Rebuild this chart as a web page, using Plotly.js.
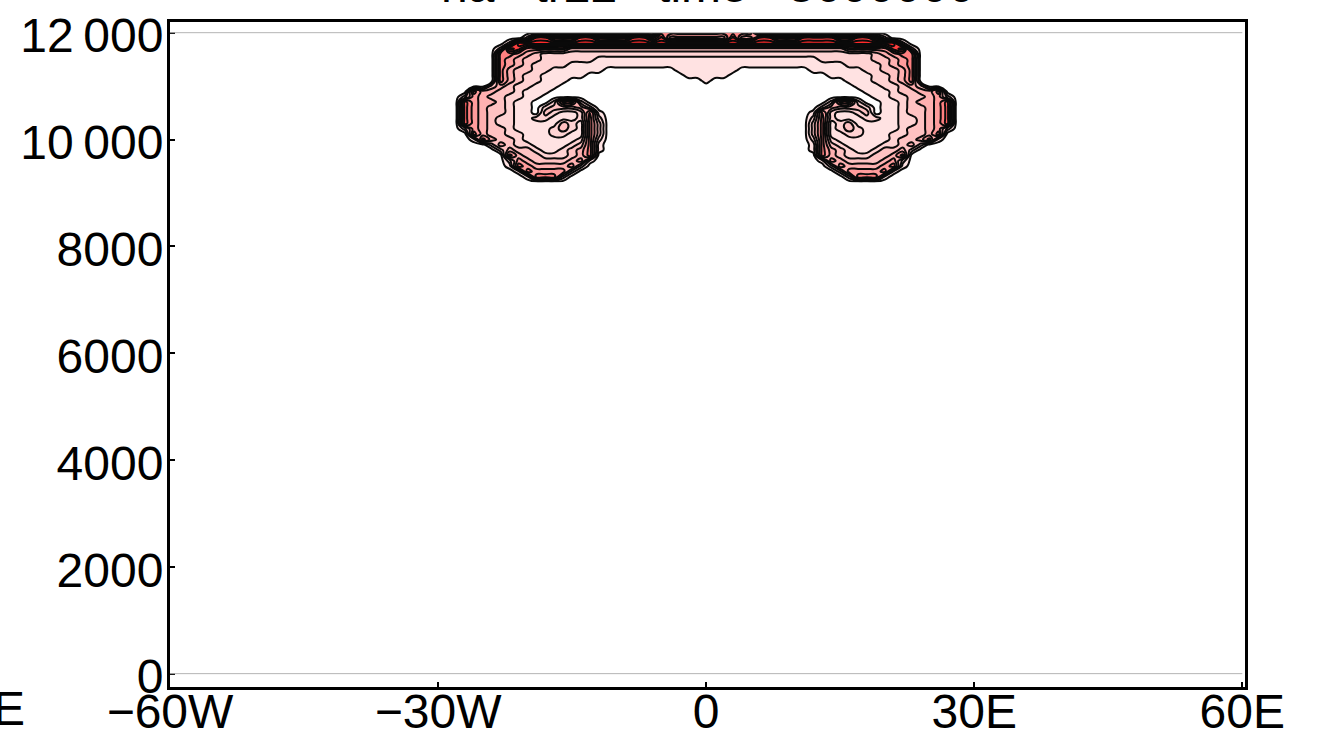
<!DOCTYPE html>
<html>
<head>
<meta charset="utf-8">
<script src="https://cdn.plot.ly/plotly-3.0.1.min.js"></script>
<style>
  html, body { margin: 0; padding: 0; background: #ffffff; }
  #chart { width: 1318px; height: 742px; }
</style>
</head>
<body>
<div id="chart"></div>
<script>
// Tracer tr22 on a 1 degree x 100 m grid around the cap of the rising thermal.
const lonDeg = [-30,-29,-28,-27,-26,-25,-24,-23,-22,-21,-20,-19,-18,-17,-16,-15,-14,-13,-12,-11,
  -10,-9,-8,-7,-6,-5,-4,-3,-2,-1,0,1,2,3,4,5,6,7,8,9,10,11,12,13,14,15,16,17,18,19,20,
  21,22,23,24,25,26,27,28,29,30];

const heightM = [12000,11900,11800,11700,11600,11500,11400,11300,11200,11100,11000,
  10900,10800,10700,10600,10500,10400,10300,10200,10100,10000,9900,9800,9700,9600,
  9500,9400,9300,9200];

// One string per height level (top first); one digit per longitude, grouped by 10.
const tracerRows = [
  "0000000000 0000000000 0000066666 6666660000 0000000000 0000000000 0",
  "0000000000 2885558855 5588584444 4448448855 5888855885 2000000000 0",
  "0000000029 9999999999 9999999999 9999999999 9999999999 9920000000 0",
  "0000000298 5555533333 3333333333 3333333333 3333335555 5892000000 0",
  "0000000665 4322222222 2222222222 2222222222 2222222223 4566000000 0",
  "0000000654 3322222211 1111111111 1111111111 1112222223 3456000000 0",
  "0000000654 3222211111 1111111111 1111111111 1111112222 3456000000 0",
  "0000000643 3221111110 0000000111 1111000000 0011111122 3346000000 0",
  "0000000643 2211111000 0000000011 1110000000 0000111112 2346000000 0",
  "0000000643 2211100000 0000000000 1000000000 0000001112 2346000000 0",
  "0000003432 2111000000 0000000000 0000000000 0000000111 2234300000 0",
  "0000644332 1110000000 0000000000 0000000000 0000000011 1233446000 0",
  "0002543322 1100000000 0000000000 0000000000 0000000001 1223345200 0",
  "0007544321 1002662000 0000000000 0000000000 0000266200 1123445700 0",
  "0007543321 1023334200 0000000000 0000000000 0002433320 1123345700 0",
  "0007543321 1032112610 0000000000 0000000000 0016211230 1123345700 0",
  "0007543221 1221112620 0000000000 0000000000 0026211122 1122345700 0",
  "0007543221 1111321630 0000000000 0000000000 0036123111 1122345700 0",
  "0002543321 1112321630 0000000000 0000000000 0036123211 1123345200 0",
  "0000643322 1112211630 0000000000 0000000000 0036112211 1223346000 0",
  "0000164332 1111112620 0000000000 0000000000 0026211111 1233461000 0",
  "0000002432 2111123610 0000000000 0000000000 0016321111 2234200000 0",
  "0000000243 3211234610 0000000000 0000000000 0016432112 3342000000 0",
  "0000000064 3322234600 0000000000 0000000000 0006432223 3460000000 0",
  "0000000025 4333345100 0000000000 0000000000 0001543333 4520000000 0",
  "0000000016 5444452000 0000000000 0000000000 0000254444 5610000000 0",
  "0000000001 6555520000 0000000000 0000000000 0000025555 6100000000 0",
  "0000000000 1666200000 0000000000 0000000000 0000002666 1000000000 0",
  "0000000000 0000000000 0000000000 0000000000 0000000000 0000000000 0"
];

const xTickVals = [-60, -30, 0, 30, 60];
const xTickText = ['\u221260W', '\u221230W', '0', '30E', '60E'];
const yTickVals = [0, 2000, 4000, 6000, 8000, 10000, 12000];
const yTickText = ['0', '2000', '4000', '6000', '8000', '10\u2009000', '12\u2009000'];

const titleText = 'ha\u00a0\u00a0\u00a0tr22\u00a0\u00a0\u00a0time\u00a0\u00a0\u00a03600000';

const tracer = tracerRows.map(r => r.replace(/ /g, '').split('').map(Number));

const FONT = 'Liberation Sans, Arial, Helvetica, sans-serif';

// white -> pink -> red, one colour per contour band
const bandColors = [
  [0 / 9, '#ffffff'],
  [1 / 9, '#ffe2e2'],
  [2 / 9, '#ffd3d3'],
  [3 / 9, '#ffc2c2'],
  [4 / 9, '#ffb0b0'],
  [5 / 9, '#ff9c9c'],
  [6 / 9, '#ff8080'],
  [7 / 9, '#ff6060'],
  [8 / 9, '#ff4040'],
  [9 / 9, '#ff2a2a']
];

const trace = {
  type: 'contour',
  x: lonDeg,
  y: heightM,
  z: tracer,
  autocontour: false,
  contours: { start: 0.5, end: 8.5, size: 1, coloring: 'fill', showlines: true },
  line: { color: '#0a0a0a', width: 2, smoothing: 1.3 },
  colorscale: bandColors,
  zmin: 0,
  zmax: 9,
  showscale: false,
  hoverinfo: 'skip'
};

const axisCommon = {
  showgrid: false,
  zeroline: false,
  showline: true,
  linecolor: '#000000',
  linewidth: 3,
  mirror: true,
  ticks: 'inside',
  ticklen: 5,
  tickwidth: 2,
  tickcolor: '#000000',
  tickfont: { family: FONT, size: 48, color: '#000000' }
};

const layout = {
  width: 1318,
  height: 742,
  margin: { l: 170, r: 73, t: 22, b: 55 },
  paper_bgcolor: '#ffffff',
  plot_bgcolor: '#ffffff',
  showlegend: false,
  xaxis: Object.assign({}, axisCommon, {
    range: [-60, 60.3],
    tickmode: 'array',
    tickvals: xTickVals,
    ticktext: xTickText,
    ticklabelstandoff: -20
  }),
  yaxis: Object.assign({}, axisCommon, {
    range: [-250, 12200],
    tickmode: 'array',
    tickvals: yTickVals,
    ticktext: yTickText,
    ticklabelstandoff: -6,
    ticklabelshift: 3
  }),
  shapes: [
    { type: 'line', xref: 'x', yref: 'y', x0: -60, x1: 60, y0: 0, y1: 0,
      line: { color: '#b4b4b4', width: 1 }, layer: 'above' },
    { type: 'line', xref: 'x', yref: 'y', x0: -60, x1: 60, y0: 12000, y1: 12000,
      line: { color: '#b4b4b4', width: 1 }, layer: 'above' }
  ],
  annotations: [
    { text: titleText, xref: 'paper', yref: 'paper', x: 0.5, y: 1,
      xanchor: 'center', yanchor: 'bottom', yshift: 8, showarrow: false,
      font: { family: FONT, size: 48, color: '#000000' } },
    { text: 'E', xref: 'paper', yref: 'paper', x: -0.133, y: 0,
      xanchor: 'right', yanchor: 'top', yshift: 7, showarrow: false,
      font: { family: FONT, size: 48, color: '#000000' } }
  ]
};

Plotly.newPlot('chart', [trace], layout, { displayModeBar: false, staticPlot: true });
</script>
</body>
</html>
